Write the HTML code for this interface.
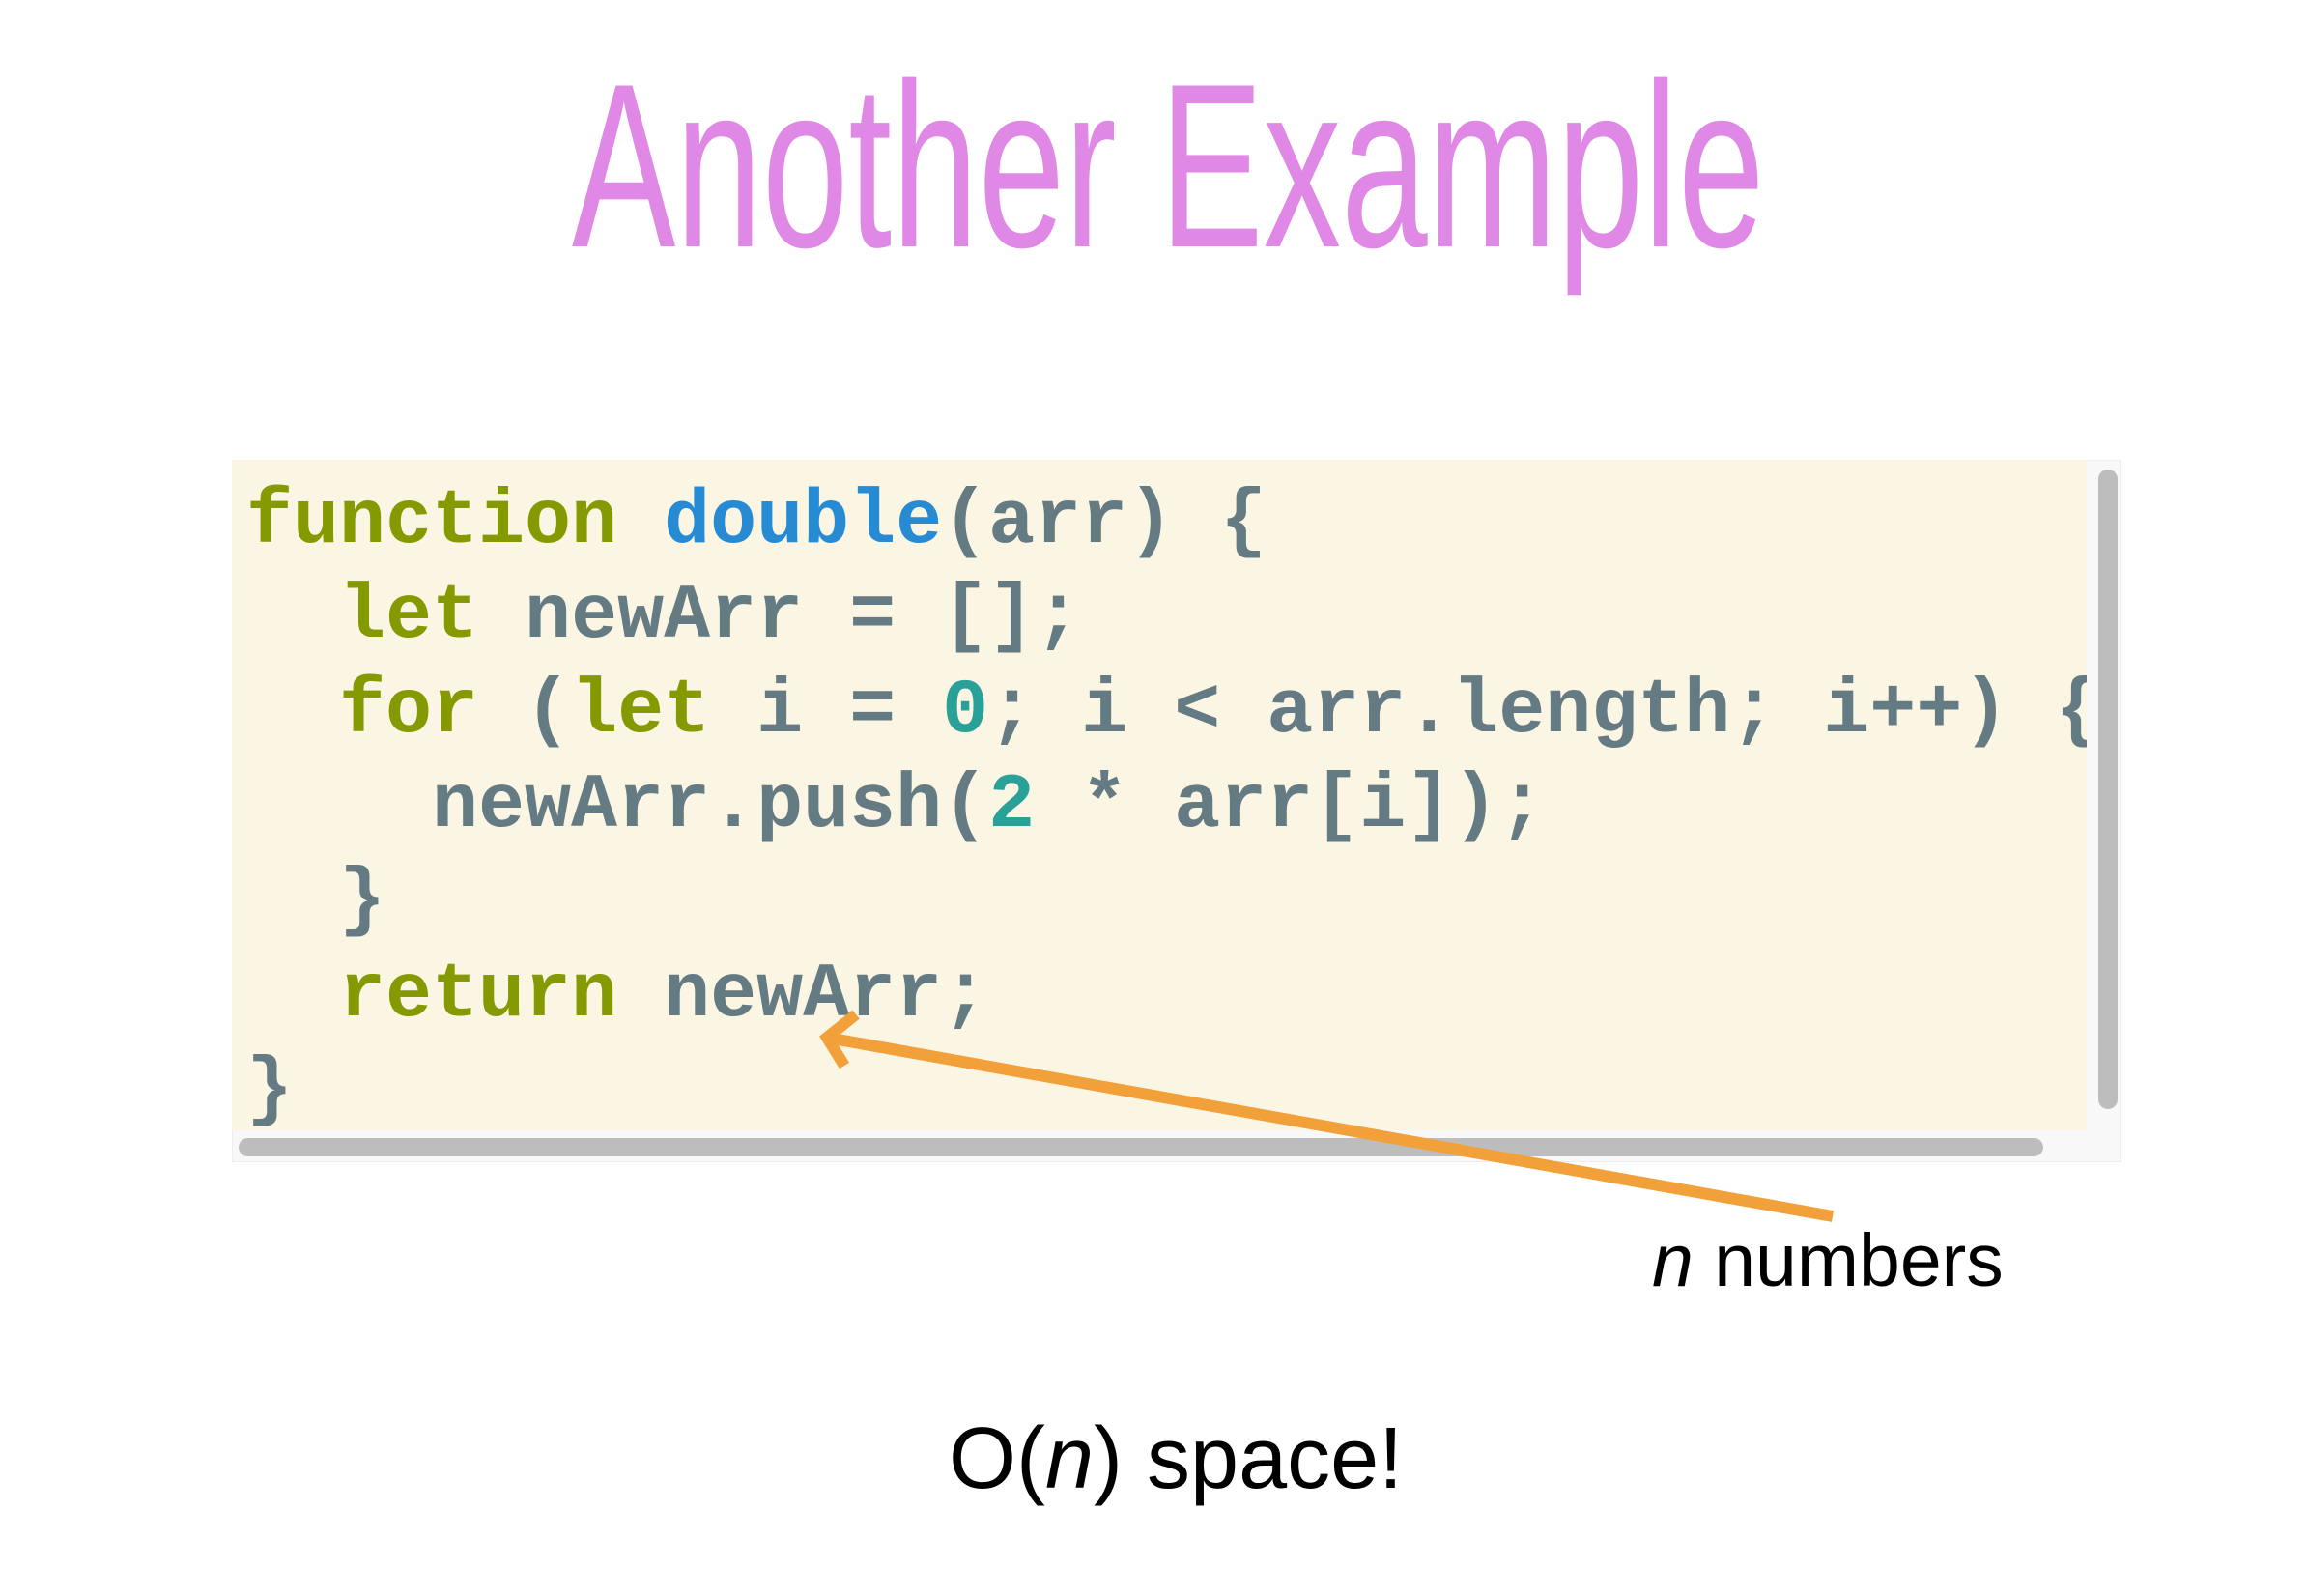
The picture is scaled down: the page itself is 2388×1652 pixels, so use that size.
<!DOCTYPE html>
<html><head><meta charset="utf-8"><style>
html,body{margin:0;padding:0;background:#fff;}
body{width:2388px;height:1652px;position:relative;overflow:hidden;}
.title{position:absolute;left:592px;top:22px;width:2014px;font-family:"Liberation Sans",sans-serif;font-size:242px;line-height:300px;color:#E088E5;transform:scaleX(0.665);transform-origin:0 0;white-space:nowrap;}
.box{position:absolute;left:240px;top:476px;width:1955px;height:727px;background:#f8f8f8;border:1px solid #eee;box-sizing:border-box;}
.code{position:absolute;left:240px;top:476px;width:1920px;height:694px;background:#FBF5E4;overflow:hidden;}
.code pre{margin:0;position:absolute;left:15px;top:16px;font-family:"Liberation Mono",monospace;font-weight:bold;font-size:80px;line-height:98px;color:#657B83;}
.k{color:#859900}.f{color:#268BD2}.n{color:#2AA198}
.vs{position:absolute;left:2172px;top:486px;width:20px;height:662px;background:#bdbdbd;border-radius:10px;}
.hs{position:absolute;left:247px;top:1178px;width:1868px;height:19px;background:#bdbdbd;border-radius:10px;}
.lbl{position:absolute;font-family:"Liberation Sans","DejaVu Sans",sans-serif;color:#000;white-space:nowrap;}
</style></head><body>
<div class="title">Another Example</div>
<div class="box"></div>
<div class="code"><pre><span class="k">function</span> <span class="f">double</span>(arr) {
  <span class="k">let</span> newArr = [];
  <span class="k">for</span> (<span class="k">let</span> i = <span class="n">0</span>; i &lt; arr.length; i++) {
    newArr.push(<span class="n">2</span> * arr[i]);
  }
  <span class="k">return</span> newArr;
}</pre></div>
<div class="vs"></div>
<div class="hs"></div>
<svg style="position:absolute;left:0;top:0" width="2388" height="1652">
<g stroke="#F2A03A" stroke-width="12" fill="none" stroke-linecap="butt">
<line x1="1897" y1="1259" x2="856" y2="1074"/>
<polyline points="886,1050 856,1074 874,1103"/>
</g>
</svg>
<div class="lbl" style="left:1710px;top:1260px;font-size:77px;line-height:90px;"><i>n</i> numbers</div>
<div class="lbl" style="left:982px;top:1450px;font-size:90px;line-height:120px;">O(<i>n</i>) space!</div>
</body></html>
